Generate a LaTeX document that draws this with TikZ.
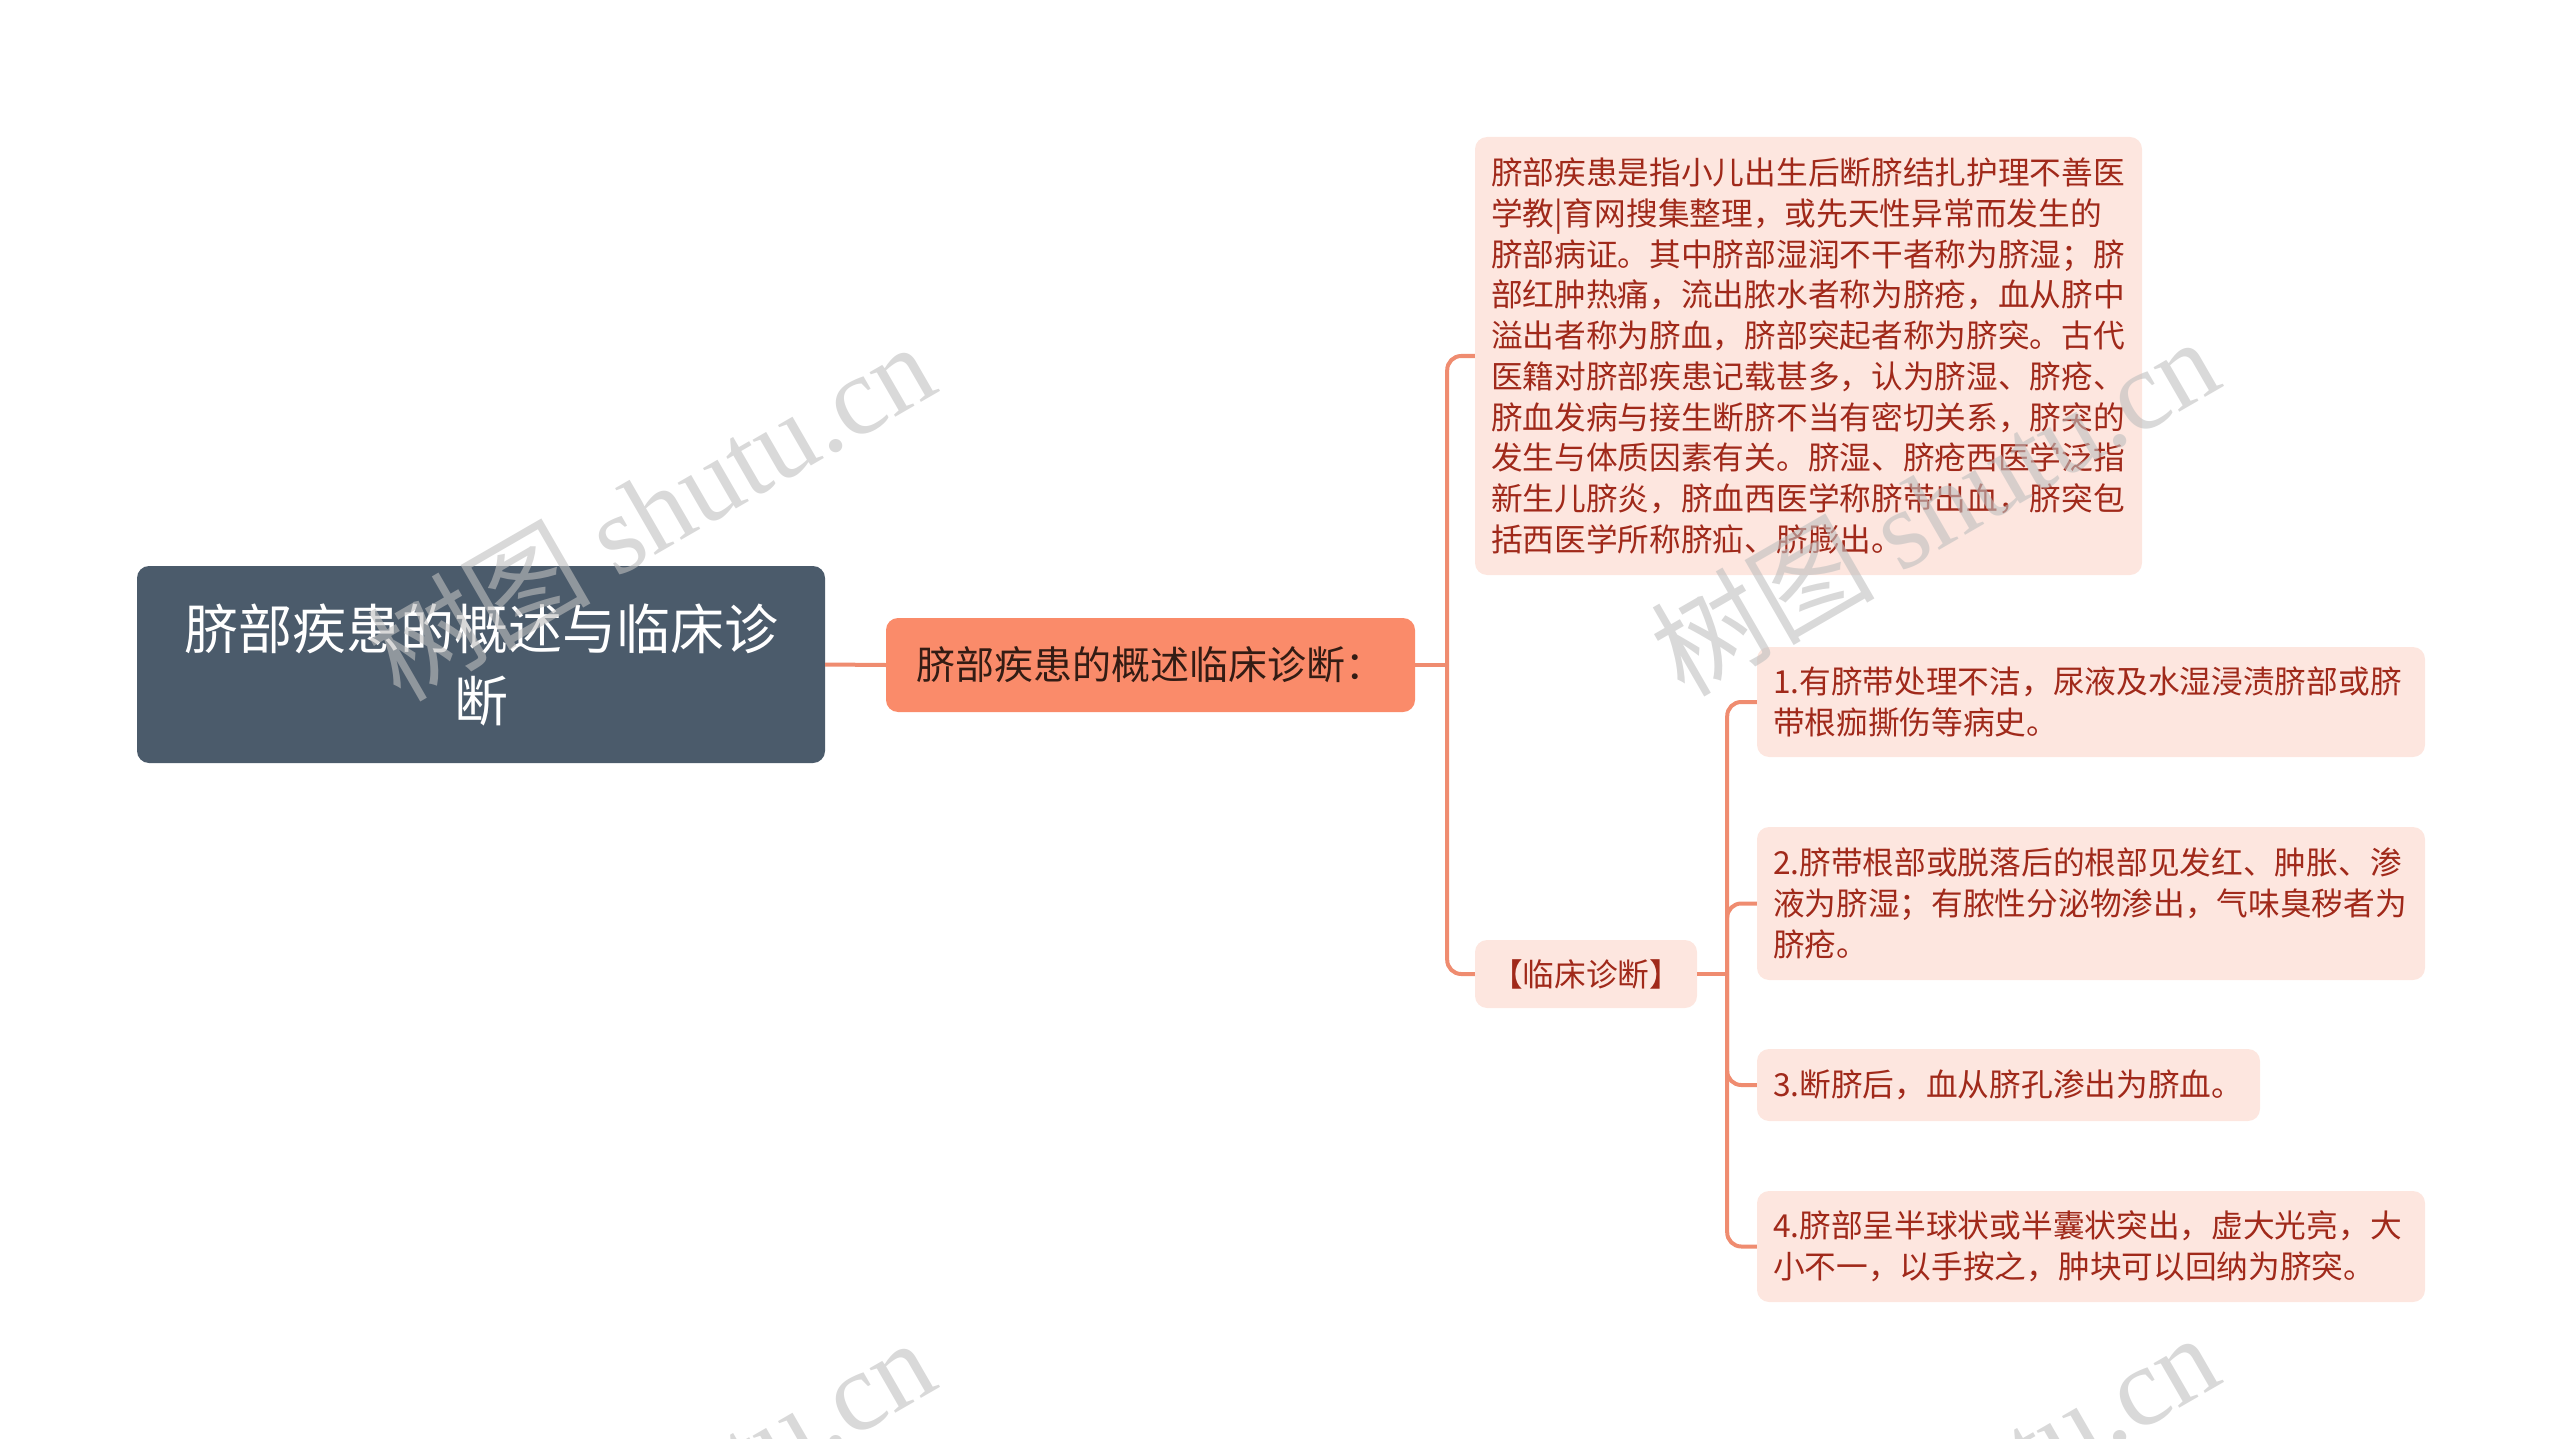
\documentclass[tikz,border=0pt]{standalone}
\usepackage{fontspec}
\setmainfont{Noto Sans CJK SC}
\newfontfamily\wmserif{Liberation Serif}
\definecolor{rootfill}{HTML}{4B5B6B}
\definecolor{lonefill}{HTML}{FA8B6A}
\definecolor{pinkfill}{HTML}{FDE6DF}
\definecolor{redtext}{HTML}{A0291A}
\definecolor{linec}{HTML}{EF8C70}
\definecolor{darktext}{HTML}{331C14}
\definecolor{wmgray}{HTML}{BFBFBF}
\begin{document}
\begin{tikzpicture}[x=1pt,y=-1pt,
  rootbox/.style={fill=rootfill, rounded corners=12pt, text=white,
    minimum width=688pt, minimum height=197pt, text width=640pt,
    align=center, inner sep=0pt, font=\fontsize{54}{72}\selectfont},
  lonebox/.style={fill=lonefill, rounded corners=12pt, text=darktext,
    minimum width=529pt, minimum height=94pt, text width=500pt,
    align=center, inner sep=0pt, font=\fontsize{39}{48}\selectfont},
  pinkbox/.style={fill=pinkfill, rounded corners=12pt, text=redtext,
    inner xsep=16pt, inner ysep=0pt, align=left,
    font=\fontsize{31.7}{40.7}\selectfont},
  conn/.style={draw=linec, line width=4pt, rounded corners=14pt},
  wm/.style={rotate=30, text=wmgray, opacity=0.6, inner sep=0pt,
    font=\fontsize{112}{112}\selectfont}
]
\useasboundingbox (0,0) rectangle (2560,1439);

\node[rootbox] (root) at (481,664.5) {脐部疾患的概述与临床诊\\断};
\node[lonebox] (lone) at (1150.5,665) {脐部疾患的概述临床诊断：};

\node[pinkbox, text width=635pt, minimum height=438pt] (box1) at (1808.5,356)
  {脐部疾患是指小儿出生后断脐结扎护理不善医\\
   学教|育网搜集整理，或先天性异常而发生的\\
   脐部病证。其中脐部湿润不干者称为脐湿；脐\\
   部红肿热痛，流出脓水者称为脐疮，血从脐中\\
   溢出者称为脐血，脐部突起者称为脐突。古代\\
   医籍对脐部疾患记载甚多，认为脐湿、脐疮、\\
   脐血发病与接生断脐不当有密切关系，脐突的\\
   发生与体质因素有关。脐湿、脐疮西医学泛指\\
   新生儿脐炎，脐血西医学称脐带出血，脐突包\\
   括西医学所称脐疝、脐膨出。};

\node[pinkbox, text width=190pt, minimum height=68pt, align=center] (clin) at (1586,974) {【临床诊断】};

\node[pinkbox, text width=636pt, minimum height=110pt] (it1) at (2091,702)
  {1.有脐带处理不洁，尿液及水湿浸渍脐部或脐\\带根痂撕伤等病史。};
\node[pinkbox, text width=636pt, minimum height=153pt] (it2) at (2091,903.5)
  {2.脐带根部或脱落后的根部见发红、肿胀、渗\\液为脐湿；有脓性分泌物渗出，气味臭秽者为\\脐疮。};
\node[pinkbox, text width=471pt, minimum height=72pt] (it3) at (2008.5,1085)
  {3.断脐后，血从脐孔渗出为脐血。};
\node[pinkbox, text width=636pt, minimum height=111pt] (it4) at (2091,1246.5)
  {4.脐部呈半球状或半囊状突出，虚大光亮，大\\小不一，以手按之，肿块可以回纳为脐突。};

\draw[conn] (root.east) -- (lone.west);
\coordinate (j1) at ([xshift=32pt]lone.east);
\draw[conn] (lone.east) -- (j1);
\draw[conn] (j1) |- (box1.west);
\draw[conn] (j1) |- (clin.west);
\coordinate (j2) at ([xshift=30pt]clin.east);
\draw[conn] (clin.east) -- (j2);
\foreach \n in {it1,it2,it3,it4} \draw[conn] (j2) |- (\n.west);

\begin{scope}
  \clip (0,0) rectangle (2560,1439);
  \node[wm] (wm1) at (650,510) {树图 {\wmserif shutu.cn}};
  \node[wm] (wm2) at (1934,505) {树图 {\wmserif shutu.cn}};
  \node[wm] (wm3) at (650,1506) {树图 {\wmserif shutu.cn}};
  \node[wm] (wm4) at (1934,1501) {树图 {\wmserif shutu.cn}};
\end{scope}
\end{tikzpicture}
\end{document}
